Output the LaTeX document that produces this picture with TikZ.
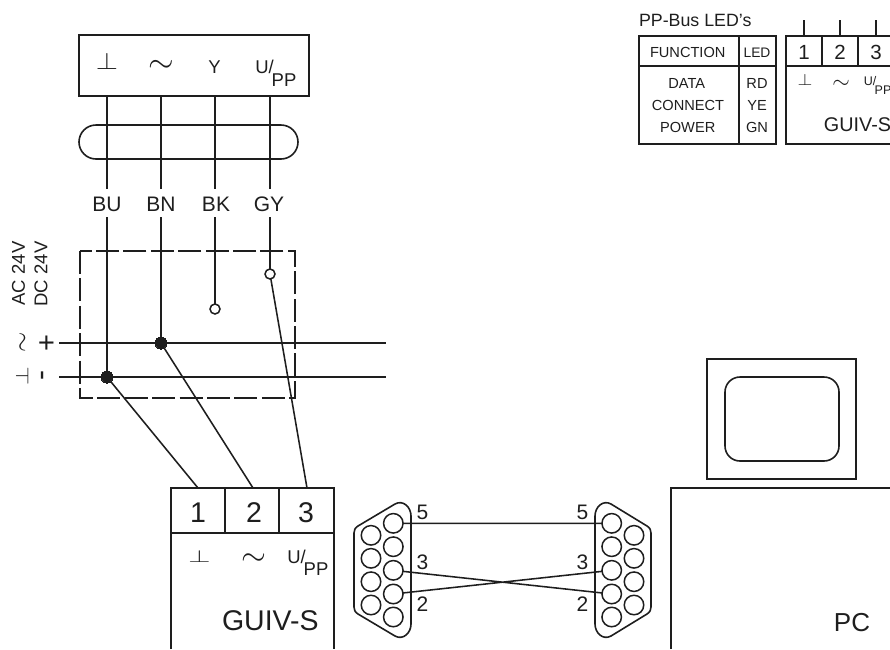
\documentclass[tikz,border=0pt]{standalone}
\usepackage{fontspec}
\setmainfont{Liberation Sans}
\definecolor{ink}{HTML}{1E1E1E}
\newcommand\fs[1]{\fontsize{#1}{#1}\selectfont}
\newcommand\sy[3]{\scalebox{#1}[#2]{$#3$}}
\tikzset{
  lbl/.style={inner sep=0pt,outer sep=0pt,text=ink,font=\fs{#1}},
  ln/.style={draw=ink,line width=1.6pt},
  wire/.style={draw=ink,line width=1.9pt},
  thin wire/.style={draw=ink,line width=1.55pt},
  dashbox/.style={draw=ink,line width=1.7pt,dash pattern=on 23pt off 4.4pt},
  pin/.style={circle,draw=ink,line width=1.5pt,minimum size=19.5pt,inner sep=0pt,outer sep=0pt},
  dot/.style={circle,fill=ink,draw=ink,line width=0pt,minimum size=12pt,inner sep=0pt,outer sep=0pt},
  open/.style={circle,fill=white,draw=ink,line width=1.5pt,minimum size=10pt,inner sep=0pt,outer sep=0pt},
}
\begin{document}
\begin{tikzpicture}[x=1pt,y=-1pt]
\useasboundingbox (0,0) rectangle (890,649);
% terminal box
\draw[ln,line width=1.8pt] (79,35) rectangle (309,96);
\coordinate (t1) at (107,96); \coordinate (t2) at (161,96); \coordinate (t3) at (215,96); \coordinate (t4) at (270,96);
\coordinate (u1) at (107,189); \coordinate (u2) at (161,189); \coordinate (u3) at (215,189); \coordinate (u4) at (270,189);
\coordinate (v1) at (107,217); \coordinate (v2) at (161,217); \coordinate (v3) at (215,217); \coordinate (v4) at (270,217);
\node[lbl=10] (tperp) at (107,61) {\sy{2.85}{2.4}{\perp}};
\node[lbl=10] (tsim) at (161,66) {\sy{3.3}{3.3}{\sim}};
\node[lbl=18.5] (tY) at (214.5,67.5) {Y};
\node[lbl=18.5] (tU) at (264.5,67) {U/};
\node[lbl=18.5] (tPP) at (284,80) {PP};
% cable
\draw[ln] (96,125) -- (281,125) arc[start angle=-90,end angle=90,radius=17] -- (96,159) arc[start angle=90,end angle=270,radius=17] -- cycle;
\node[lbl=21] (lBU) at (107,204) {BU};
\node[lbl=21] (lBN) at (161,204) {BN};
\node[lbl=21] (lBK) at (216,204) {BK};
\node[lbl=21] (lGY) at (269,204) {GY};
\draw[wire] (t1)--(u1) (t2)--(u2) (t3)--(u3) (t4)--(u4);
% dashed box
\draw[dashbox] (80,251) rectangle (295,398);
% rails
\coordinate (r1a) at (59,343); \coordinate (r1b) at (386,343);
\coordinate (r2a) at (59,377); \coordinate (r2b) at (386,377);
\draw[wire] (r1a)--(r1b) (r2a)--(r2b);
\node[dot] (d1) at (107,377) {};
\node[dot] (d2) at (161,343) {};
\node[open] (o3) at (215,309) {};
\node[open] (o4) at (270,274) {};
\draw[wire] (v1)--(d1) (v2)--(d2) (v3)--(o3) (v4)--(o4);
% left labels
\node[lbl=18.5,rotate=90] (ac) at (18.5,273.5) {AC 24V};
\node[lbl=18.5,rotate=90] (dc) at (41,274) {DC 24V};
\node[lbl=10,rotate=90] (lsim) at (24,342) {\sy{2.6}{2.6}{\sim}};
\node[lbl=29,rotate=90] (lplus) at (48,343) {+};
\node[lbl=10,rotate=90] (lperp) at (22,376.5) {\sy{2.4}{1.85}{\perp}};
\node[lbl=30,rotate=90] (lminus) at (46,375.7) {-};
% GUIV-S main
\draw[ln] (171,649) -- (171,488) -- (334,488) -- (334,649);
\draw[ln] (171,533) -- (334,533);
\draw[ln,line width=1.9pt] (225,488) -- (225,533) (279,488) -- (279,533);
\coordinate (g1) at (198,488); \coordinate (g2) at (253,488); \coordinate (g3) at (307,488);
\draw[thin wire] (d1)--(g1) (d2)--(g2) (o4)--(g3);
\node[lbl=28.5] (n1) at (198,513) {1};
\node[lbl=28.5] (n2) at (254,513) {2};
\node[lbl=28.5] (n3) at (306,513) {3};
\node[lbl=10] (gperp) at (199.5,556) {\sy{2.85}{1.75}{\perp}};
\node[lbl=10] (gsim) at (253.5,560) {\sy{3.2}{3.2}{\sim}};
\node[lbl=18.5] (gU) at (296.5,556.5) {U/};
\node[lbl=18.5] (gPP) at (316,569.5) {PP};
\node[lbl=28.5] (gname) at (270.3,620.7) {GUIV-S};
% D-sub left
\draw[ln] (411,516) .. controls (411,507) and (403,499.5) .. (395,504) -- (358,526) .. controls (355,528) and (354,530) .. (354,533) -- (354,607) .. controls (354,610) and (355,612) .. (358,614) -- (395,636) .. controls (403,640.5) and (411,633) .. (411,624) -- cycle;
\foreach \n/\y in {1/523.3,2/546.7,3/570.3,4/594,5/617}{
  \node[pin] (li\n) at (393.3,\y) {};
  \node[pin] (ri\n) at (611.7,\y) {};
}
\foreach \n/\y in {1/535.3,2/558.3,3/581.7,4/605}{
  \node[pin] (lo\n) at (371,\y) {};
  \node[pin] (ro\n) at (634,\y) {};
}
% D-sub right
\draw[ln] (595,516) .. controls (595,507) and (603,499.5) .. (611,504) -- (647,526) .. controls (650,528) and (651,530) .. (651,533) -- (651,607) .. controls (651,610) and (650,612) .. (647,614) -- (611,636) .. controls (603,640.5) and (595,633) .. (595,624) -- cycle;
\draw[thin wire] (li1)--(ri1) (li3)--(ri4) (li4)--(ri3);
\node[lbl=21] (a5) at (422.5,512) {5};
\node[lbl=21] (a3) at (422.5,562) {3};
\node[lbl=21] (a2) at (422.5,604) {2};
\node[lbl=21] (b5) at (582.5,512) {5};
\node[lbl=21] (b3) at (582.5,562) {3};
\node[lbl=21] (b2) at (582.5,604) {2};
% monitor
\draw[ln] (707,359) rectangle (856,479);
\draw[ln,rounded corners=15pt] (725,377) rectangle (839,461);
% PC
\draw[ln] (671,649) -- (671,488) -- (890,488);
\node[lbl=26] (pc) at (852,623) {PC};
% LED table
\node[lbl=17.8,anchor=west] (ttl) at (639,20) {PP-Bus LED's};
\draw[ln,line width=1.8pt] (639,36) rectangle (775.7,144.3);
\draw[ln,line width=1.8pt] (639,66) -- (775.7,66) (739.3,36) -- (739.3,144.3);
\node[lbl=14.6] (f0) at (687.7,52.7) {FUNCTION};
\node[lbl=13.8] (l0) at (757,52.7) {LED};
\node[lbl=14.6] (f1) at (686.7,83) {DATA};
\node[lbl=14.6] (f2) at (688,105) {CONNECT};
\node[lbl=14.6] (f3) at (687.7,127) {POWER};
\node[lbl=14.6] (l1) at (757,83) {RD};
\node[lbl=14.6] (l2) at (757,105) {YE};
\node[lbl=14.6] (l3) at (757,127) {GN};
% small GUIV-S
\draw[ln,line width=1.8pt] (890,36) -- (785.7,36) -- (785.7,144.3) -- (890,144.3) (785.7,66) -- (890,66);
\draw[ln,line width=2.1pt] (822.3,36) -- (822.3,66) (858.3,36) -- (858.3,66);
\coordinate (s1) at (804,36); \coordinate (s2) at (840,36); \coordinate (s3) at (876,36);
\coordinate (e1) at (804,20); \coordinate (e2) at (840,20); \coordinate (e3) at (876,20);
\draw[ln] (e1)--(s1) (e2)--(s2) (e3)--(s3);
\node[lbl=20.5] (m1) at (804,52) {1};
\node[lbl=20.5] (m2) at (840,52) {2};
\node[lbl=20.5] (m3) at (876,52) {3};
\node[lbl=10] (sperp) at (805,80) {\sy{1.9}{1.65}{\perp}};
\node[lbl=10] (ssim) at (841,84) {\sy{2.25}{2.25}{\sim}};
\node[lbl=12.5] (sU) at (870,81) {U/};
\node[lbl=12.5] (sPP) at (883,90) {PP};
\node[lbl=19.8] (sname) at (857.5,125) {GUIV-S};
\end{tikzpicture}
\end{document}
